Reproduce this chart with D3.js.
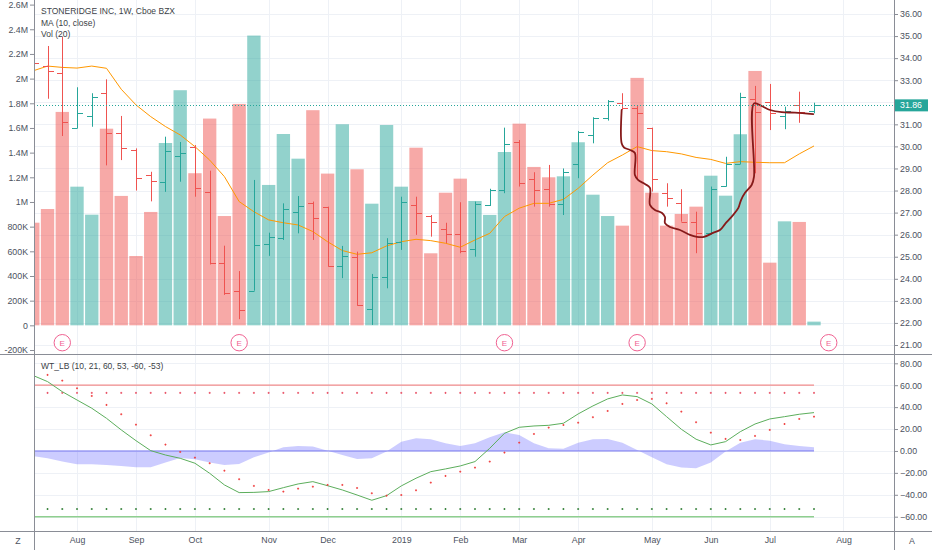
<!DOCTYPE html>
<html>
<head>
<meta charset="utf-8">
<script src="https://d3js.org/d3.v7.min.js"></script>
<style>
  body { margin: 0; background: #fff; }
  svg { display: block; font-family: "Liberation Sans", Arial, sans-serif; }
  .axis text { fill: #4c525e; font-size: 8.8px; }
  .axis line { stroke: #8a8d96; }
  .axis path { display: none; }
</style>
</head>
<body>
<svg width="932" height="550"></svg>
<script>
// weekly bars, week of Jul 16 2018 (index 0) .. week of Jul 22 2019 (index 53)
const opens  = [33.95,33.64,33.34,30.85,31.38,32.41,30.62,29.84,28.71,28.38,29.57,29.99,27.95,24.70,23.43,23.46,25.58,25.84,27.04,27.45,
                27.27,24.60,25.00,22.62,24.10,25.68,27.35,26.85,26.24,26.03,25.34,27.35,28.03,30.19,28.52,28.07,27.39,29.19,30.52,31.27,
                31.98,31.73,30.82,27.90,27.45,26.56,26.06,28.21,29.20,32.13,32.03,31.38,31.88,31.62];
const highs  = [34.30,34.55,34.97,32.68,32.41,33.04,31.38,29.91,28.85,30.44,30.20,30.06,28.90,25.50,24.35,28.48,26.09,27.42,27.75,27.50,
                27.27,25.49,25.23,24.22,25.84,27.72,27.72,26.89,26.54,27.47,27.50,28.08,30.85,30.29,28.83,29.16,29.00,30.70,31.32,32.10,
                32.41,31.83,30.85,28.33,28.06,27.04,28.18,29.53,32.43,32.74,32.83,31.80,32.48,31.98];
const lows   = [33.40,32.16,30.47,30.82,30.89,29.14,29.38,28.00,27.51,27.94,28.40,27.72,24.65,23.27,22.17,23.46,25.04,25.76,26.06,25.76,
                24.55,24.03,22.78,21.91,23.57,25.31,25.99,25.91,25.61,25.16,25.00,27.30,27.88,28.18,27.27,27.27,26.89,28.56,30.14,31.17,
                31.65,28.48,27.95,27.27,26.59,25.16,25.99,28.18,29.20,28.78,30.74,30.78,31.07,31.50];
const closes = [33.77,33.43,31.12,31.53,32.25,30.62,29.94,28.57,28.43,29.79,29.72,28.10,24.70,23.34,22.57,25.52,25.88,27.15,27.30,26.77,
                24.60,25.04,22.81,24.07,25.64,27.47,26.97,26.59,26.01,25.28,27.39,28.03,30.11,28.36,28.03,27.38,28.85,30.67,31.27,32.07,
                31.73,31.50,28.52,27.65,26.57,26.06,28.06,29.21,32.25,31.57,31.50,31.60,31.57,31.86];
// volume in millions
const volumes = [0.832,0.943,1.730,1.124,0.897,1.594,1.049,0.562,0.919,1.478,1.906,1.233,1.676,0.886,1.795,2.349,1.138,1.551,1.351,1.744,
                 1.230,1.630,1.265,0.986,1.624,1.124,1.440,0.584,1.075,1.189,1.008,0.895,1.405,1.635,1.284,1.200,1.208,1.484,1.059,0.886,
                 0.808,2.006,1.075,0.808,0.903,0.962,1.213,1.051,1.549,2.062,0.508,0.843,0.838,0.030];
// MA (10, close)
const maValues = [33.42,33.64,33.58,33.55,33.64,33.54,32.59,31.88,31.35,30.90,30.52,29.99,29.38,28.63,27.50,27.04,26.67,26.54,26.44,26.14,
                  25.68,25.28,25.11,25.18,25.49,25.68,25.79,25.73,25.61,25.43,25.76,26.06,26.82,27.20,27.42,27.42,27.60,28.10,28.70,29.26,
                  29.61,29.99,29.81,29.76,29.66,29.50,29.41,29.23,29.31,29.28,29.26,29.26,29.66,30.02];
// WT_LB
const wt1 = [69,63.3,54.1,46.5,39,29.8,19.2,9.4,0.3,-3.7,-6.7,-11.2,-20.4,-31,-38,-37.8,-37.1,-33.5,-30.1,-28,
             -31.7,-35.6,-40.2,-45,-40.8,-31.9,-24.9,-18.9,-16.4,-13.7,-9.7,2.4,16.1,21.6,22.8,23.4,25.3,33.8,41.1,47.5,
             51.1,49.6,42.9,31.3,19.8,10.7,5.5,8.5,17.6,24.6,29.2,31.3,33.5,35];
const wt2 = [72,69.4,64.2,57.2,50.2,42,33.5,24,14.3,5.8,-0.9,-6.1,-11.2,-18,-25.8,-31.9,-35.6,-37.1,-34.4,-32.6,
             -31,-31,-33.8,-38.6,-40.8,-40.2,-35.9,-28.9,-22.8,-18.9,-15.2,-9.7,-1.5,7.6,15.5,21.3,23.7,25.8,30.8,36.5,
             42.9,46.5,47.5,43.5,35.9,26.2,16.7,11,10,13.7,19.2,24.6,29.2,31.3];
const wtDiff = [-4.6,-6.7,-9.7,-12.2,-12.2,-12.8,-13.7,-14.9,-14.9,-10.6,-6.4,-7.6,-10.6,-12.8,-11.9,-5.8,-1.5,3.4,4.6,4,
                0.3,-3.7,-7.3,-6.7,-0.6,8.5,11.6,10.7,7,4.6,7,12.5,17.1,14.6,7,2.4,2.1,7.6,10.7,11,
                7.6,0.9,-5.8,-12.2,-15.2,-15.8,-10.6,-0.6,7.6,10.7,9.4,6.1,4.6,3.4];
const wtLevels = [60, 53, -60, -53];

// month labels (bar index of first week of each month)
const monthIdx = [3,7,11,16,20,25,29,33,37,42,46,50,55];
const monthLabels = ["Aug","Sep","Oct","Nov","Dec","2019","Feb","Mar","Apr","May","Jun","Jul","Aug"];
const earningsIdx = [2,14,32,41,54];
const priceTicks = [21,22,23,24,25,26,27,28,29,30,31,32,33,34,35,36];
const volTicks = [-0.2,0,0.2,0.4,0.6,0.8,1,1.2,1.4,1.6,1.8,2,2.2,2.4,2.6];
const volTickLabels = ["-200K","0","200K","400K","600K","800K","1M","1.2M","1.4M","1.6M","1.8M","2M","2.2M","2.4M","2.6M"];
const oscTicks = [-60,-40,-20,0,20,40,60,80];
const lastPrice = 31.86;
// hand drawn curve (bar index, price)
const drawIdx = [39.95,39.95,40.11,40.52,40.85,40.85,41.06,41.53,41.87,41.87,42.21,42.69,42.89,42.89,43.23,43.91,44.58,45.06,45.54,46.15,
                 46.62,46.96,47.42,47.86,48.05,48.32,48.77,48.93,48.93,49.45,50.02,50.81,51.71,52.95];
const drawPrice = [31.65,30.14,29.95,29.84,29.70,28.70,28.48,28.30,28.12,27.35,27.12,26.98,26.80,26.52,26.35,26.21,25.99,25.90,25.90,26.08,
                   26.21,26.48,26.82,27.20,27.57,27.90,28.25,28.63,31.95,31.83,31.65,31.55,31.53,31.46];

const svg = d3.select("svg");
const W = 932, H = 550;
const left = 34, right = 894, sep1 = 354, sep2 = 531;
const red = "#ef5350", teal = "#26a69a";
const n = closes.length;

const x = d3.scaleLinear().domain([0, 53]).range([32.8, 814]);
const step = x(1) - x(0);
const yP = d3.scaleLinear().domain([21, 36]).range([345, 14]);
const yV = d3.scaleLinear().domain([-0.2, 2.6]).range([350, 4.6]);
const yO = d3.scaleLinear().domain([-60, 80]).range([516.7, 363.3]);
const lastX = x(n - 1);

const defs = svg.append("defs");
defs.append("clipPath").attr("id", "clipMain")
  .append("rect").attr("x", left).attr("y", 0).attr("width", right - left).attr("height", sep1);
defs.append("clipPath").attr("id", "clipOsc")
  .append("rect").attr("x", left).attr("y", sep1).attr("width", right - left).attr("height", sep2 - sep1);

// grid
const grid = svg.append("g").attr("stroke", "#eef1f6").attr("stroke-width", 1);
grid.selectAll(".vg").data(monthIdx).join("line")
  .attr("x1", d => Math.round(x(d)) + 0.5).attr("x2", d => Math.round(x(d)) + 0.5)
  .attr("y1", 0).attr("y2", sep2);
grid.selectAll(".hg").data(priceTicks).join("line")
  .attr("x1", left).attr("x2", right)
  .attr("y1", d => Math.round(yP(d)) + 0.5).attr("y2", d => Math.round(yP(d)) + 0.5);
grid.selectAll(".og").data(oscTicks).join("line")
  .attr("x1", left).attr("x2", right)
  .attr("y1", d => Math.round(yO(d)) + 0.5).attr("y2", d => Math.round(yO(d)) + 0.5);

// main pane
const main = svg.append("g").attr("clip-path", "url(#clipMain)");
const idx = d3.range(n);
const isUp = i => closes[i] >= opens[i];

main.append("g").selectAll("rect").data(idx).join("rect")
  .attr("x", i => x(i) - step / 2 + 0.7)
  .attr("width", step - 1.4)
  .attr("y", i => yV(volumes[i]))
  .attr("height", i => yV(0) - yV(volumes[i]))
  .attr("fill", i => isUp(i) ? teal : red)
  .attr("fill-opacity", 0.5);

main.append("path")
  .datum(idx)
  .attr("fill", "none").attr("stroke", "#ff9800").attr("stroke-width", 1)
  .attr("d", d3.line().x(i => x(i)).y(i => yP(maValues[i])));

const bars = main.append("g").selectAll("g").data(idx).join("g")
  .attr("stroke", i => isUp(i) ? teal : red).attr("stroke-width", 1);
bars.append("line")
  .attr("x1", i => Math.round(x(i)) + 0.5).attr("x2", i => Math.round(x(i)) + 0.5)
  .attr("y1", i => yP(highs[i])).attr("y2", i => yP(lows[i]));
bars.append("line")
  .attr("x1", i => Math.round(x(i)) - 5).attr("x2", i => Math.round(x(i)) + 0.5)
  .attr("y1", i => Math.round(yP(opens[i])) + 0.5).attr("y2", i => Math.round(yP(opens[i])) + 0.5);
bars.append("line")
  .attr("x1", i => Math.round(x(i)) + 0.5).attr("x2", i => Math.round(x(i)) + 6)
  .attr("y1", i => Math.round(yP(closes[i])) + 0.5).attr("y2", i => Math.round(yP(closes[i])) + 0.5);

// hand drawn curve
main.append("path")
  .datum(d3.range(drawIdx.length))
  .attr("fill", "none").attr("stroke", "#861a1a").attr("stroke-width", 1.8)
  .attr("stroke-linejoin", "round").attr("stroke-linecap", "round")
  .attr("d", d3.line().curve(d3.curveCatmullRom.alpha(0.5))
    .x(k => x(drawIdx[k])).y(k => yP(drawPrice[k])));

// last price dotted line
main.append("line")
  .attr("x1", left).attr("x2", right)
  .attr("y1", Math.round(yP(lastPrice)) + 0.5).attr("y2", Math.round(yP(lastPrice)) + 0.5)
  .attr("stroke", teal).attr("stroke-width", 1).attr("stroke-dasharray", "1,2");

// earnings markers
const eg = svg.append("g").selectAll("g").data(earningsIdx).join("g")
  .attr("transform", d => `translate(${x(d)},342.7)`);
eg.append("circle").attr("r", 8.2).attr("fill", "#fff").attr("stroke", "#f06292").attr("stroke-width", 1);
eg.append("text").text("E").attr("text-anchor", "middle").attr("dy", "0.35em")
  .attr("fill", "#f06292").attr("font-size", 8);

// oscillator pane
const osc = svg.append("g").attr("clip-path", "url(#clipOsc)");
osc.append("path")
  .datum(idx)
  .attr("fill", "#6464ff").attr("fill-opacity", 0.33)
  .attr("d", d3.area().x(i => x(i)).y0(yO(0)).y1(i => yO(wtDiff[i])));
osc.append("line")
  .attr("x1", left).attr("x2", lastX).attr("y1", yO(0)).attr("y2", yO(0))
  .attr("stroke", "#7a7af0").attr("stroke-width", 1);
osc.append("line")
  .attr("x1", left).attr("x2", lastX).attr("y1", yO(wtLevels[0])).attr("y2", yO(wtLevels[0]))
  .attr("stroke", "#f28b8b").attr("stroke-width", 1.3);
osc.append("line")
  .attr("x1", left).attr("x2", lastX).attr("y1", yO(wtLevels[2])).attr("y2", yO(wtLevels[2]))
  .attr("stroke", "#8fcf8f").attr("stroke-width", 1.6);

function crosses(g, vals, color) {
  g.append("g").selectAll("path").data(idx).join("path")
    .attr("d", i => {
      const cx = x(i), cy = yO(vals[i]);
      return `M${cx - 1},${cy}H${cx + 1}M${cx},${cy - 1}V${cy + 1}`;
    })
    .attr("stroke", color).attr("stroke-width", 0.9);
}
crosses(osc, idx.map(() => wtLevels[1]), "#e84a5f");
crosses(osc, idx.map(() => wtLevels[3]), "#2e7d32");
osc.append("path")
  .datum(idx)
  .attr("fill", "none").attr("stroke", "#5cae5c").attr("stroke-width", 1)
  .attr("d", d3.line().x(i => x(i)).y(i => yO(wt1[i])));
crosses(osc, wt2, "#ef3b3b");

// axes (the label under the last-price box is hidden, as on the reference)
const priceLabelTicks = priceTicks.filter(d => Math.abs(yP(d) - yP(lastPrice)) > 8);
svg.append("g").attr("class", "axis").attr("transform", `translate(${right},0)`)
  .call(d3.axisRight(yP).tickValues(priceLabelTicks).tickFormat(d3.format(".2f")).tickSize(4).tickPadding(2));
svg.append("g").attr("class", "axis").attr("transform", `translate(${right},0)`)
  .call(d3.axisRight(yO).tickValues(oscTicks).tickFormat(d3.format(".2f")).tickSize(4).tickPadding(2));
svg.append("g").attr("class", "axis").attr("transform", `translate(${left},0)`)
  .call(d3.axisLeft(yV).tickValues(volTicks).tickFormat((d, k) => volTickLabels[k]).tickSize(4).tickPadding(2));
svg.append("g").attr("class", "axis").attr("transform", `translate(0,${sep2})`)
  .call(d3.axisBottom(x).tickValues(monthIdx).tickFormat((d, k) => monthLabels[k]).tickSize(0).tickPadding(6));

// frame lines
const frame = svg.append("g").attr("stroke", "#8a8d96").attr("stroke-width", 1);
frame.append("line").attr("x1", left + 0.5).attr("x2", left + 0.5).attr("y1", 0).attr("y2", H);
frame.append("line").attr("x1", right + 0.5).attr("x2", right + 0.5).attr("y1", 0).attr("y2", H);
frame.append("line").attr("x1", 0).attr("x2", W).attr("y1", sep1 + 0.5).attr("y2", sep1 + 0.5);
frame.append("line").attr("x1", 0).attr("x2", W).attr("y1", sep2 + 0.5).attr("y2", sep2 + 0.5);

// last price label
const ly = yP(lastPrice);
svg.append("rect").attr("x", right + 1).attr("y", ly - 6).attr("width", 33).attr("height", 12).attr("fill", teal);
svg.append("text").attr("x", right + 6).attr("y", ly).attr("dy", "0.35em")
  .attr("fill", "#fff").attr("font-size", 8.8).text(lastPrice.toFixed(2));

// legends
const legend = svg.append("g").attr("fill", "#3c3f47").attr("font-size", 8.5);
legend.append("text").attr("x", 41).attr("y", 14).text("STONERIDGE INC, 1W, Cboe BZX");
legend.append("text").attr("x", 41).attr("y", 25.5).text("MA (10, close)");
legend.append("text").attr("x", 41).attr("y", 36.5).text("Vol (20)");
legend.append("text").attr("x", 41).attr("y", 369).text("WT_LB (10, 21, 60, 53, -60, -53)");

svg.append("text").attr("x", 18).attr("y", 544).attr("text-anchor", "middle")
  .attr("fill", "#4c525e").attr("font-size", 8.8).text("Z");
svg.append("text").attr("x", 912).attr("y", 544).attr("text-anchor", "middle")
  .attr("fill", "#4c525e").attr("font-size", 8.8).text("A");
</script>
</body>
</html>
